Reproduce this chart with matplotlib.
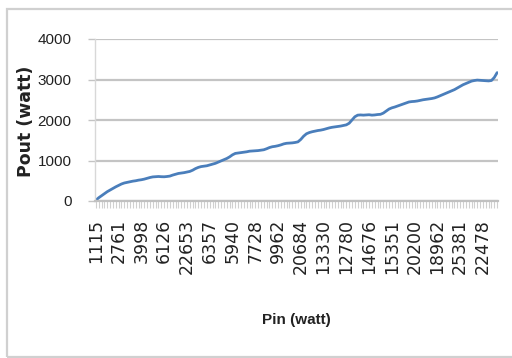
import matplotlib
matplotlib.use("Agg")
import matplotlib.pyplot as plt
from matplotlib.patches import Rectangle
from matplotlib.ticker import FixedLocator, MultipleLocator

# Output power (watt) for each measured input sample
pout = [
    20, 80, 130, 180, 230, 270, 310, 350, 385, 420,
    445, 460, 475, 490, 500, 515, 525, 540, 560, 580,
    595, 600, 605, 600, 598, 605, 615, 640, 660, 680,
    690, 700, 715, 730, 760, 800, 830, 850, 860, 870,
    890, 910, 930, 960, 990, 1020, 1050, 1090, 1140, 1175,
    1185, 1195, 1205, 1215, 1230, 1235, 1240, 1245, 1255, 1265,
    1290, 1320, 1340, 1350, 1365, 1385, 1410, 1425, 1430, 1435,
    1445, 1460, 1520, 1600, 1660, 1690, 1710, 1725, 1740, 1750,
    1765, 1785, 1805, 1820, 1830, 1840, 1850, 1865, 1880, 1920,
    2000, 2080, 2120, 2125, 2120, 2125, 2130, 2120, 2125, 2135,
    2140, 2170, 2220, 2270, 2300, 2320, 2345, 2370, 2395, 2420,
    2445, 2455, 2460, 2470, 2485, 2500, 2510, 2520, 2530, 2545,
    2570, 2600, 2630, 2660, 2690, 2720, 2750, 2790, 2830, 2870,
    2900, 2930, 2960, 2975, 2985, 2980, 2975, 2970, 2965, 2975,
    3050, 3170,
]

# Input power labels shown along the category axis (every 8th sample)
pin_labels = [
    "1115", "2761", "3998", "6126", "22653", "6357", "5940", "7728", "9962",
    "20684", "13330", "12780", "14676", "15351", "20200", "18962", "25381", "22478",
]
label_step = 8

y_ticks = [0, 1000, 2000, 3000, 4000]

fig = plt.figure(figsize=(5.12, 3.58), dpi=100)
fig.patch.set_facecolor("white")

# chart frame
fig.patches.append(Rectangle((7 / 512, 1 - 357 / 358), 510 / 512, 348 / 358,
                             transform=fig.transFigure, fill=False,
                             edgecolor="#d0d0d0", linewidth=1.6))

ax = fig.add_axes([95 / 512, 1 - 201 / 358, 403 / 512, 162 / 358])

x = list(range(len(pout)))
ax.plot(x, pout, color="#4a7ebb", linewidth=2.0, solid_capstyle="round")

ax.set_xlim(-0.3, len(pout) - 1 + 0.3)
ax.set_ylim(0, 4000)
ax.set_yticks(y_ticks)
ax.set_yticklabels([str(v) for v in y_ticks], fontfamily="Liberation Sans",
                   fontsize=11, color="#222222")

ax.grid(axis="y", color="#c4c4c4", linewidth=1.6)
ax.set_axisbelow(True)

for side in ("top", "right"):
    ax.spines[side].set_visible(False)
ax.spines["left"].set_color("#d8d8d8")
ax.spines["left"].set_linewidth(1.0)
ax.spines["bottom"].set_color("#c0c0c0")
ax.spines["bottom"].set_linewidth(1.6)

major = [i * label_step for i in range(len(pin_labels))]
ax.xaxis.set_major_locator(FixedLocator(major))
ax.xaxis.set_minor_locator(MultipleLocator(1))
ax.set_xticklabels(pin_labels, rotation=90, fontfamily="DejaVu Sans",
                   fontsize=12.5, color="#222222")
ax.tick_params(axis="x", which="both", length=5, color="#d0d0d0", width=0.8, pad=8)
ax.tick_params(axis="y", length=5, color="#c4c4c4", width=1.0, pad=12)

ax.set_ylabel("Pout (watt)", fontfamily="DejaVu Sans", fontweight="bold",
              fontsize=12.5, color="#222222")
ax.yaxis.set_label_coords(-0.149, 0.49)
ax.set_xlabel("Pin (watt)", fontfamily=["Liberation Sans Narrow", "Liberation Sans"],
              fontweight="bold", fontsize=11, color="#222222")
ax.xaxis.set_label_coords(0.499, -0.69)

fig.savefig("out.png", dpi=100)
